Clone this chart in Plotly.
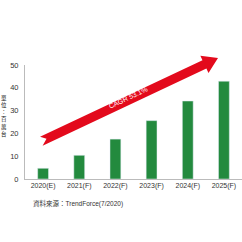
import numpy as np
import plotly.graph_objects as go

categories = ["2020(E)", "2021(F)", "2022(F)", "2023(F)", "2024(F)", "2025(F)"]
values = [4.7, 10.4, 17.5, 25.6, 34.2, 42.9]
y_ticks = [0, 10, 20, 30, 40, 50]
cagr_label = "CAGR 53.1%"
y_title = "單位：百萬台"
source = "資料來源：TrendForce(7/2020)"

W, H = 242, 242
L, R, T, B = 25, 0, 40, 63
pw, ph = W - L - R, H - T - B
plot_top = 65  # pixel row of the value 50

def to_paper(px, py):
    return float((px - L) / pw), float((H - B - py) / ph)

fig = go.Figure(go.Bar(x=categories, y=values, marker_color="#238a3e", width=0.3,
                       xaxis="x", yaxis="y"))

# decorative arrow drawn on a separate hidden subplot measured in pixels (on top of the bars)
start = np.array([42.0, 141.0]); tip = np.array([218.0, 58.0])
d = tip - start; Ln = np.linalg.norm(d); u = d / Ln; n = np.array([u[1], -u[0]])
hw, hh, hl, notch = 4.6, 9.5, 15.0, 5.0
pts = [start + n * hw, start + u * (Ln - hl) + n * hw, start + u * (Ln - hl) + n * hh, tip,
       start + u * (Ln - hl) - n * hh, start + u * (Ln - hl) - n * hw, start - n * hw - u * 1.5,
       start + u * notch, start + n * hw]
fig.add_trace(go.Scatter(x=[float(p[0]) for p in pts], y=[float(p[1]) for p in pts], xaxis="x2", yaxis="y2",
                         mode="lines", fill="toself", fillcolor="#e30a1c", line=dict(width=0, color="#e30a1c"),
                         hoverinfo="skip"))

cx, cy = to_paper(*(start + u * (Ln * 0.49)))
ang = float(np.degrees(np.arctan2(d[1], d[0])))
fig.add_annotation(text=cagr_label, x=cx, y=cy, xref="paper", yref="paper", showarrow=False,
                   textangle=ang, yshift=3, font=dict(color="white", size=7, family="Liberation Sans"))

fig.add_annotation(text="<br>".join(y_title), x=to_paper(3.5, 0)[0], y=to_paper(0, 116)[1],
                   xref="paper", yref="paper", showarrow=False, xanchor="center", yanchor="middle",
                   font=dict(size=5.5, color="#111", family="Noto Sans CJK TC"))
fig.add_annotation(text=source, x=to_paper(31, 0)[0], y=to_paper(0, 203)[1], xref="paper", yref="paper",
                   showarrow=False, xanchor="left", yanchor="middle",
                   font=dict(size=6.5, color="#333", family="Liberation Sans, Noto Sans CJK TC"))

fig.update_layout(
    width=W, height=H, margin=dict(l=L, r=R, t=T, b=B), plot_bgcolor="rgba(0,0,0,0)",
    paper_bgcolor="white", showlegend=False, bargap=0.7,
    font=dict(family="Liberation Sans", color="#333"),
    xaxis=dict(domain=[0, 1], range=[-0.5, 5.5], showline=True, linecolor="#bbbbbb", linewidth=1,
               ticks="", tickfont=dict(size=7), showgrid=False, anchor="y"),
    yaxis=dict(domain=[0, (H - B - plot_top) / ph], range=[0, 50], tickvals=y_ticks, showline=True,
               linecolor="#bbbbbb", linewidth=1, ticks="", showgrid=False, zeroline=False,
               tickfont=dict(size=7.5), ticklabelstandoff=4, anchor="x"),
    xaxis2=dict(domain=[0, 1], range=[L, W - R], visible=False, fixedrange=True, anchor="y2"),
    yaxis2=dict(domain=[0, 1], range=[H - B, T], visible=False, fixedrange=True, anchor="x2"),
)
fig.write_html("out.html")
